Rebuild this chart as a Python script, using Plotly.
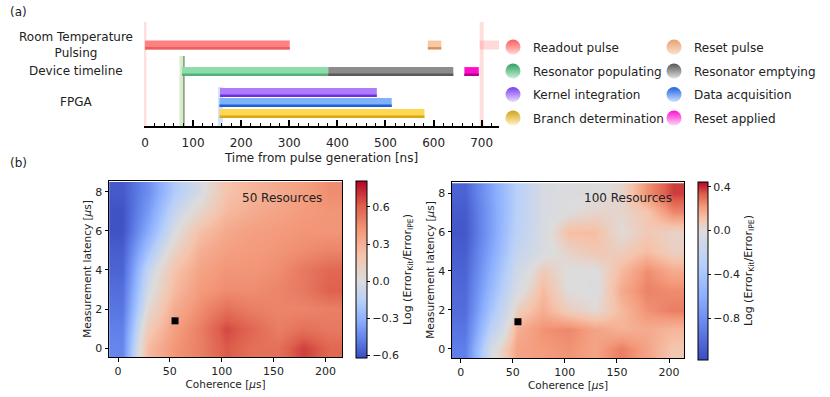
import plotly.graph_objects as go

W, H = 830, 397
FONT = "DejaVu Sans"

# ---------------- (a) timeline data ----------------
task_names = ["Readout pulse", "Reset pulse", "Resonator populating", "Resonator emptying",
              "Kernel integration", "Data acquisition", "Branch determination", "Reset applied"]
task_row = ["rt", "rt", "dev", "dev", "fpga_k", "fpga_d", "fpga_b", "dev"]
task_start = [0, 588, 77, 381, 156, 155, 155, 664]
task_end = [301, 616, 381, 641, 482, 513, 581, 694]
next_cycle_start = [696]
next_cycle_end = [780]
event_times = [0, 77, 81, 157, 700]
time_ticks = [0, 100, 200, 300, 400, 500, 600, 700]
row_label_text = ["Room Temperature<br>Pulsing", "Device timeline", "FPGA"]
row_label_key = ["rt", "dev", "fpga_d"]

# ---------------- (b) heatmap data ----------------
coherence = [4, 29, 54, 79, 104, 129, 154, 179, 204]
latency = [0, 1, 2, 3, 4, 5, 6, 7, 8]
z50 = [
    [-0.45, 0.25, 0.42, 0.50, 0.62, 0.55, 0.55, 0.68, 0.58],
    [-0.47, 0.15, 0.38, 0.50, 0.66, 0.58, 0.50, 0.55, 0.52],
    [-0.50, 0.04, 0.32, 0.45, 0.55, 0.50, 0.48, 0.48, 0.50],
    [-0.52, -0.04, 0.25, 0.40, 0.45, 0.45, 0.48, 0.52, 0.60],
    [-0.55, -0.10, 0.20, 0.36, 0.42, 0.42, 0.45, 0.52, 0.58],
    [-0.57, -0.22, 0.08, 0.30, 0.38, 0.40, 0.42, 0.45, 0.48],
    [-0.60, -0.32, -0.02, 0.22, 0.33, 0.38, 0.40, 0.42, 0.42],
    [-0.60, -0.38, -0.10, 0.07, 0.25, 0.32, 0.36, 0.40, 0.42],
    [-0.58, -0.42, -0.18, -0.03, 0.20, 0.28, 0.33, 0.38, 0.45],
]
z100 = [
    [-0.90, -0.05, 0.20, 0.22, 0.24, 0.20, 0.28, 0.20, 0.10],
    [-0.95, -0.25, 0.17, 0.24, 0.26, 0.20, 0.16, 0.18, 0.15],
    [-1.00, -0.40, 0.07, 0.17, 0.07, 0.02, 0.14, 0.24, 0.28],
    [-1.02, -0.50, -0.04, 0.14, 0.00, -0.02, 0.18, 0.27, 0.25],
    [-1.05, -0.58, -0.10, 0.09, -0.01, -0.01, 0.14, 0.25, 0.18],
    [-1.08, -0.65, -0.20, -0.04, 0.05, 0.10, 0.07, 0.13, 0.06],
    [-1.12, -0.70, -0.25, -0.05, 0.13, 0.13, 0.01, 0.09, 0.05],
    [-1.10, -0.70, -0.28, -0.05, 0.00, 0.04, 0.04, 0.10, 0.26],
    [-1.05, -0.68, -0.28, -0.05, -0.02, -0.01, 0.03, 0.24, 0.38],
]
chosen_x = [55]
chosen_y = [1.4]
z50_range = [-0.62, 0.81]
z100_range = [-1.18, 0.45]
cb50_ticks = [-0.6, -0.3, 0.0, 0.3, 0.6]
cb100_ticks = [-0.8, -0.4, 0.0, 0.4]
coh_ticks = [0, 50, 100, 150, 200]
lat_ticks = [0, 2, 4, 6, 8]

# ---------------- styles ----------------
row_y = {"rt": 3.115, "dev": 2.096, "fpga_k": 1.288, "fpga_d": 0.904, "fpga_b": 0.481}
bar_fill = ["#ff8080", "#f9c7a0", "#8edcaa", "#8c8c8c", "#b07df8", "#80b2fa", "#fdd850", "#ff10c8"]
bar_edge = ["#e86060", "#d89060", "#52b47a", "#5a5a5a", "#6a30e8", "#1a60dc", "#d8a818", "#b0008a"]
leg_top = ["#ff5a5a", "#e8a070", "#30a060", "#555555", "#7a3cf0", "#1e64e0", "#d0a418", "#ff10d0"]
leg_bot = ["#ffd8d8", "#fbe2cc", "#c8f0d6", "#e0e0e0", "#e8dcff", "#cfe0ff", "#fff3c8", "#ffd6f4"]
event_color = ["rgba(255,160,160,0.35)", "rgba(160,220,130,0.45)", "#666666",
               "rgba(130,175,240,0.35)", "rgba(255,160,160,0.35)"]
event_width = [3, 5, 1, 5, 4]
event_top = [4.0, 2.69, 2.69, 1.5, 4.0]

coolwarm = [(0.0, "#3b4cc0"), (0.125, "#6282ea"), (0.25, "#8db0fe"), (0.375, "#b8d0f9"),
            (0.5, "#dddcdc"), (0.625, "#f5c4ac"), (0.75, "#f49a7b"), (0.875, "#de604d"),
            (1.0, "#b40426")]


def centred_scale(zmin, zmax):
    mid = -zmin / (zmax - zmin)
    out = []
    for p, c in coolwarm:
        q = p / 0.5 * mid if p <= 0.5 else mid + (p - 0.5) / 0.5 * (1 - mid)
        out.append([q, c])
    return out


def px(x):
    return x / W


def py(y):
    return 1 - y / H


fig = go.Figure()

# event marker lines (panel a)
for t, c, w, top in zip(event_times, event_color, event_width, event_top):
    fig.add_shape(type="line", xref="x", yref="y", x0=t, x1=t, y0=0, y1=top,
                  line=dict(color=c, width=w), layer="below")

# bars: main body and darker bottom edge
BW = 0.34
for i, name in enumerate(task_names):
    y0 = row_y[task_row[i]]
    fig.add_trace(go.Bar(x=[task_end[i] - task_start[i]], base=[task_start[i]], y=[y0],
                         orientation="h", width=BW, marker=dict(color=bar_fill[i], line=dict(width=0)),
                         showlegend=False, xaxis="x", yaxis="y", hoverinfo="skip"))
    fig.add_trace(go.Bar(x=[task_end[i] - task_start[i]], base=[task_start[i]], y=[y0 - BW / 2 + 0.045],
                         orientation="h", width=0.09, marker=dict(color=bar_edge[i], line=dict(width=0)),
                         showlegend=False, xaxis="x", yaxis="y", hoverinfo="skip"))
# faded next-cycle readout
fig.add_trace(go.Bar(x=[next_cycle_end[0] - next_cycle_start[0]], base=next_cycle_start, y=[row_y["rt"]],
                     orientation="h", width=BW, marker=dict(color="rgba(255,128,128,0.3)", line=dict(width=0)),
                     showlegend=False, xaxis="x", yaxis="y", hoverinfo="skip"))

# legend entries (one legend each, 2 columns x 4 rows)
col_x = [px(493), px(654)]
row_yy = [py(47), py(71), py(94.5), py(118)]
legend_layouts = {}
for i, name in enumerate(task_names):
    key = "legend" if i == 0 else f"legend{i + 1}"
    fig.add_trace(go.Scatter(x=[None], y=[None], mode="markers", name=name, legend=key,
                             marker=dict(symbol="circle", size=15, color=leg_top[i],
                                         gradient=dict(type="vertical", color=leg_bot[i]),
                                         line=dict(width=0)),
                             xaxis="x", yaxis="y"))
    legend_layouts[key] = dict(x=col_x[i % 2], y=row_yy[i // 2], xanchor="left", yanchor="middle",
                               bgcolor="rgba(0,0,0,0)", font=dict(family=FONT, size=12, color="#222"),
                               itemsizing="trace")

cb_common = dict(lenmode="fraction", outlinewidth=1, outlinecolor="black", ticks="outside", ticklen=3,
                 tickcolor="black", tickfont=dict(family=FONT, size=11, color="#222"), xpad=0, ypad=0)
cb_title = dict(text="Log (Error<sub>Kit</sub>/Error<sub>IPE</sub>)", side="right",
                font=dict(family=FONT, size=11, color="#222"))

# heatmaps
fig.add_trace(go.Heatmap(x=coherence, y=latency, z=z50, zmin=z50_range[0], zmax=z50_range[1],
                         colorscale=centred_scale(*z50_range), zsmooth="best", xaxis="x2", yaxis="y2",
                         colorbar=dict(x=px(356), xanchor="left", y=py(181), yanchor="top",
                                       len=177 / H, thickness=11, tickvals=cb50_ticks,
                                       ticktext=[f"{v:.1f}".replace("-", "\u2212") for v in cb50_ticks],
                                       title=cb_title, **cb_common)))
fig.add_trace(go.Heatmap(x=coherence, y=latency, z=z100, zmin=z100_range[0], zmax=z100_range[1],
                         colorscale=centred_scale(*z100_range), zsmooth="best", xaxis="x3", yaxis="y3",
                         colorbar=dict(x=px(698), xanchor="left", y=py(181.5), yanchor="top",
                                       len=177.5 / H, thickness=10, tickvals=cb100_ticks,
                                       ticktext=[f"{v:.1f}".replace("-", "\u2212") for v in cb100_ticks],
                                       title=cb_title, **cb_common)))
for xa, ya in (("x2", "y2"), ("x3", "y3")):
    fig.add_trace(go.Scatter(x=chosen_x, y=chosen_y, mode="markers", xaxis=xa, yaxis=ya, showlegend=False,
                             marker=dict(symbol="square", size=7, color="black")))

# axes
heat_axis = dict(showline=True, linecolor="black", linewidth=1, mirror=True, ticks="outside",
                 ticklen=3.5, tickcolor="black", showgrid=False, zeroline=False,
                 tickfont=dict(family=FONT, size=11, color="#222"))
fig.update_layout(
    width=W, height=H, margin=dict(l=0, r=0, t=0, b=0, autoexpand=False),
    paper_bgcolor="white", plot_bgcolor="white", barmode="overlay",
    font=dict(family=FONT, color="#222"),
    xaxis=dict(domain=[px(144), px(499)], range=[-2, 736], anchor="y",
               showline=True, linecolor="black", linewidth=2, showgrid=False, zeroline=False,
               ticks="inside", ticklen=6, tickwidth=1.5, tickcolor="black", tickvals=time_ticks,
               minor=dict(dtick=20, ticks="inside", ticklen=3, tickwidth=1, tickcolor="black"),
               ticklabelstandoff=5,
               tickfont=dict(family=FONT, size=12, color="#222"),
               title=dict(text="Time from pulse generation [ns]", standoff=4,
                          font=dict(family=FONT, size=12, color="#222"))),
    yaxis=dict(domain=[py(126), py(22)], range=[0, 4], anchor="x", visible=False, fixedrange=True),
    xaxis2=dict(domain=[px(109), px(342)], range=[-8.7, 216], anchor="y2", tickvals=coh_ticks,
                title=dict(text="Coherence [<i>\u03bc</i>s]", standoff=2, font=dict(size=10.5)), **heat_axis),
    yaxis2=dict(domain=[py(357), py(181)], range=[-0.45, 8.55], anchor="x2", tickvals=lat_ticks,
                title=dict(text="Measurement latency [<i>\u03bc</i>s]", standoff=1, font=dict(size=10.5)),
                **heat_axis),
    xaxis3=dict(domain=[px(452), px(684)], range=[-8.3, 214.4], anchor="y3", tickvals=coh_ticks,
                title=dict(text="Coherence [<i>\u03bc</i>s]", standoff=2, font=dict(size=10.5)), **heat_axis),
    yaxis3=dict(domain=[py(358.3), py(181.7)], range=[-0.48, 8.58], anchor="x3", tickvals=lat_ticks,
                title=dict(text="Measurement latency [<i>\u03bc</i>s]", standoff=1, font=dict(size=10.5)),
                **heat_axis),
    **legend_layouts,
)

annotations = [
    dict(text="(a)", x=px(8), y=py(12), xref="paper", yref="paper", xanchor="left", yanchor="middle",
         showarrow=False, font=dict(size=12)),
    dict(text="(b)", x=px(8), y=py(163), xref="paper", yref="paper", xanchor="left", yanchor="middle",
         showarrow=False, font=dict(size=12)),
    dict(text="50 Resources", x=199, y=7.7, xref="x2", yref="y2", xanchor="right", yanchor="middle",
         showarrow=False, font=dict(size=12)),
    dict(text="100 Resources", x=204.5, y=7.74, xref="x3", yref="y3", xanchor="right", yanchor="middle",
         showarrow=False, font=dict(size=12)),
]
for txt, key in zip(row_label_text, row_label_key):
    annotations.append(dict(text=txt, x=px(76), y=row_y[key], xref="paper", yref="y", xanchor="center",
                            yanchor="middle", showarrow=False, font=dict(size=12), align="center"))
fig.update_layout(annotations=annotations)

fig.write_html("out.html", config={"displayModeBar": False},
               post_script="document.body.style.margin='0';document.body.style.padding='0';")
